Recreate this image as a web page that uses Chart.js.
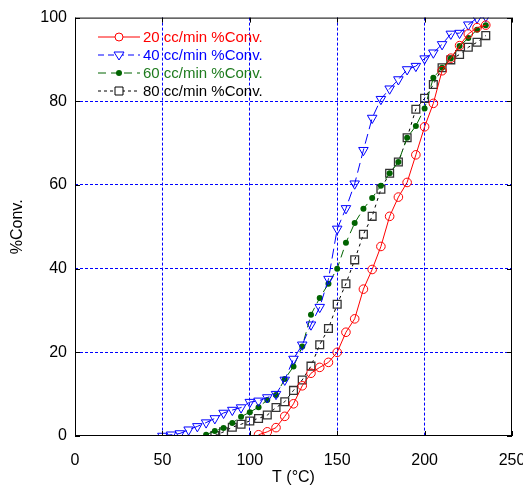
<!DOCTYPE html>
<html>
<head>
<meta charset="utf-8">
<script src="https://cdn.jsdelivr.net/npm/chart.js@4.4.0/dist/chart.umd.min.js"></script>
<style>
html, body { margin: 0; padding: 0; background: #fff; }
</style>
</head>
<body>
<canvas id="chart" width="523" height="486"></canvas>
<script>
// temperatures (°C) and conversion (%) per flow rate
const temp20 = [105,110,115,120,125,130,135,140,145,150,155,160,165,170,175,180,185,190,195,200,205,210,215,220,225,230,235];
const conv20 = [0.3,1.0,2.0,4.7,7.7,12,15,16.4,17.6,20,24.8,28,35.1,39.8,45.3,52.5,57.1,60.6,67.2,73.9,79.5,87.3,90.3,93.3,96.1,97.6,98.2];

const temp40 = [50,55,60,65,70,75,80,85,90,95,100,105,110,115,120,125,130,135,140,145,150,155,160,165,170,175,180,185,190,195,200,205,210,215,220,225,230,235];
const conv40 = [0,0.3,0.6,1.5,2.3,3.2,4.2,5.5,6.2,6.8,8.1,8.4,9.2,10,13.4,18.4,21.8,26.6,30.8,37.5,49.5,54.4,60.3,68.3,76,80.5,83,85.2,87.6,88.4,90.2,91.6,93.6,96.1,96.3,98.3,99.9,100.3];

const temp60 = [75,80,85,90,95,100,105,110,115,120,125,130,135,140,145,150,155,160,165,170,175,180,185,190,195,200,205,210,215,220,225,230,235];
const conv60 = [0.3,1.2,1.9,3.1,4.6,5.7,6.9,8.6,9.8,13.6,16.6,21.4,29,33,36.4,40,46.2,50.9,54.3,56.9,59.8,62.8,65.5,71.3,74.1,78.3,85.6,88,90.2,93.2,95.1,97.1,98.2];

const temp80 = [80,85,90,95,100,105,110,115,120,125,130,135,140,145,150,155,160,165,170,175,180,185,190,195,200,205,210,215,220,225,230,235];
const conv80 = [0.1,1.0,2.1,2.8,3.6,4.2,5.0,6.8,8.2,10.9,13.4,16.7,21.8,25.7,31.5,36.4,42.1,48.2,52.5,59,62.8,65.5,71.3,78.1,80.7,84,88,89.9,91.2,92.9,94.1,95.7];

const seriesLabels = ['20 cc/min %Conv.', '40 cc/min %Conv.', '60 cc/min %Conv.', '80 cc/min %Conv.'];
const xTicks = [0, 50, 100, 150, 200, 250];
const yTicks = [0, 20, 40, 60, 80, 100];

const RED = '#ff0000', BLUE = '#0000ff', GREEN = '#006400', BLACK = '#000000';

function pts(xs, ys) {
    return xs.map((x, i) => ({ x: x, y: ys[i] }));
}

// legend drawn inside the plot, like the original
const legendStyles = [
    { color: RED, text: RED, dash: [], marker: 'circle' },
    { color: BLUE, text: BLUE, dash: [6, 4], marker: 'triangle' },
    { color: GREEN, text: '#1e7b1e', dash: [8, 5], marker: 'dot' },
    { color: BLACK, text: BLACK, dash: [3, 3], marker: 'square' }
];

function drawMarker(ctx, type, x, y, color) {
    ctx.save();
    ctx.setLineDash([]);
    ctx.strokeStyle = color;
    ctx.fillStyle = color;
    ctx.lineWidth = 1;
    ctx.beginPath();
    if (type === 'circle') {
        ctx.fillStyle = '#fff';
        ctx.arc(x, y, 4, 0, Math.PI * 2);
        ctx.fill();
        ctx.stroke();
    } else if (type === 'triangle') {
        ctx.fillStyle = '#fff';
        ctx.moveTo(x - 5, y - 3);
        ctx.lineTo(x + 5, y - 3);
        ctx.lineTo(x, y + 5);
        ctx.closePath();
        ctx.fill();
        ctx.stroke();
    } else if (type === 'dot') {
        ctx.arc(x, y, 3, 0, Math.PI * 2);
        ctx.fill();
    } else {
        ctx.fillStyle = '#fff';
        ctx.rect(x - 4, y - 4, 8, 8);
        ctx.fill();
        ctx.stroke();
    }
    ctx.restore();
}

const framePlugin = {
    id: 'frame',
    afterDatasetsDraw(chart) {
        const ctx = chart.ctx;
        const a = chart.chartArea;
        const xs = chart.scales.x, ys = chart.scales.y;
        ctx.save();
        ctx.strokeStyle = '#000';
        ctx.lineWidth = 1;
        ctx.setLineDash([]);
        ctx.strokeRect(a.left + 0.5, a.top + 0.5, a.right - a.left - 1, a.bottom - a.top - 1);
        ctx.beginPath();
        xTicks.forEach(v => {
            const px = Math.round(xs.getPixelForValue(v)) + 0.5;
            ctx.moveTo(px, a.bottom); ctx.lineTo(px, a.bottom - 5);
            ctx.moveTo(px, a.top); ctx.lineTo(px, a.top + 5);
        });
        yTicks.forEach(v => {
            const py = Math.round(ys.getPixelForValue(v)) + 0.5;
            ctx.moveTo(a.left, py); ctx.lineTo(a.left + 5, py);
            ctx.moveTo(a.right, py); ctx.lineTo(a.right - 5, py);
        });
        ctx.stroke();

        // legend
        ctx.font = '15px "Liberation Sans", Arial, sans-serif';
        ctx.textBaseline = 'middle';
        ctx.textAlign = 'left';
        legendStyles.forEach((s, i) => {
            const y = 37 + i * 18;
            ctx.save();
            ctx.strokeStyle = s.color;
            ctx.lineWidth = 1;
            ctx.setLineDash(s.dash);
            ctx.beginPath();
            ctx.moveTo(98, y);
            ctx.lineTo(140, y);
            ctx.stroke();
            ctx.restore();
            drawMarker(ctx, s.marker, 119, y, s.color);
            ctx.fillStyle = s.text;
            ctx.fillText(seriesLabels[i], 143, y + 1);
        });
        ctx.restore();
    }
};

function gridColor(c) {
    if (c.index === 0 || c.index === c.scale.ticks.length - 1) return 'rgba(0,0,0,0)';
    return BLUE;
}

const ctx = document.getElementById('chart').getContext('2d');
const chart = new Chart(ctx, {
    type: 'line',
    data: {
        datasets: [
            {
                label: seriesLabels[3],
                data: pts(temp80, conv80),
                borderColor: BLACK,
                borderWidth: 1,
                borderDash: [3, 4],
                pointStyle: 'rect',
                pointRadius: 5.5,
                pointBorderColor: '#333',
                pointBackgroundColor: 'rgba(0,0,0,0)',
                pointBorderWidth: 1.3,
                fill: false
            },
            {
                label: seriesLabels[2],
                data: pts(temp60, conv60),
                borderColor: GREEN,
                borderWidth: 1,
                borderDash: [8, 5],
                pointStyle: 'circle',
                pointRadius: 3,
                pointBorderColor: GREEN,
                pointBackgroundColor: GREEN,
                pointBorderWidth: 0,
                fill: false
            },
            {
                label: seriesLabels[1],
                data: pts(temp40, conv40),
                borderColor: BLUE,
                borderWidth: 1,
                borderDash: [10, 5],
                pointStyle: 'triangle',
                pointRotation: 180,
                pointRadius: 5.5,
                pointBorderColor: BLUE,
                pointBackgroundColor: 'rgba(0,0,0,0)',
                pointBorderWidth: 1,
                fill: false
            },
            {
                label: seriesLabels[0],
                data: pts(temp20, conv20),
                borderColor: RED,
                borderWidth: 1,
                pointStyle: 'circle',
                pointRadius: 4.3,
                pointBorderColor: RED,
                pointBackgroundColor: 'rgba(0,0,0,0)',
                pointBorderWidth: 1,
                fill: false
            }
        ].reverse()
    },
    options: {
        responsive: false,
        animation: false,
        events: [],
        layout: { padding: { top: 16, right: 0, bottom: 0, left: 0 } },
        plugins: {
            legend: { display: false },
            tooltip: { enabled: false }
        },
        scales: {
            x: {
                type: 'linear',
                min: 0,
                max: 250,
                afterBuildTicks: s => { s.ticks = xTicks.map(v => ({ value: v })); },
                afterFit: s => { s.height = 50; s.paddingLeft = 0; s.paddingRight = 11; },
                grid: { color: gridColor, lineWidth: 1, drawTicks: false },
                border: { display: false, dash: [3, 2] },
                ticks: {
                    color: '#000',
                    padding: 15,
                    font: { family: '"Liberation Sans", Arial, sans-serif', size: 16 }
                },
                title: {
                    display: true,
                    text: 'T (°C)',
                    color: '#000',
                    padding: 0,
                    font: { family: '"Liberation Sans", Arial, sans-serif', size: 16, lineHeight: 1 }
                }
            },
            y: {
                type: 'linear',
                min: 0,
                max: 100,
                afterBuildTicks: s => { s.ticks = yTicks.map(v => ({ value: v })); },
                afterFit: s => { s.width = 75; },
                grid: { color: gridColor, lineWidth: 1, drawTicks: false },
                border: { display: false, dash: [3, 2] },
                ticks: {
                    color: '#000',
                    padding: 8,
                    font: { family: '"Liberation Sans", Arial, sans-serif', size: 16 }
                },
                title: {
                    display: true,
                    text: '%Conv.',
                    color: '#000',
                    padding: { top: 8, bottom: 0 },
                    font: { family: '"Liberation Sans", Arial, sans-serif', size: 16 }
                }
            }
        }
    },
    plugins: [framePlugin]
});
</script>
</body>
</html>
